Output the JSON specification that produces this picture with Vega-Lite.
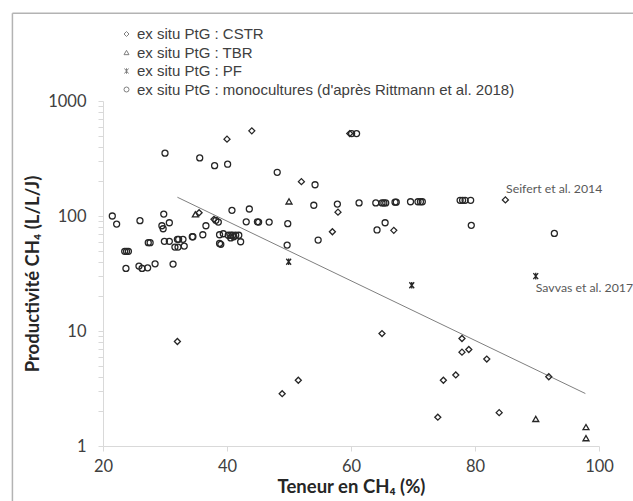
{
  "$schema": "https://vega.github.io/schema/vega-lite/v6.json",
  "width": 496,
  "height": 345,
  "autosize": "none",
  "padding": {"left": 103, "top": 101, "right": 34, "bottom": 55},
  "background": "white",
  "config": {"font": "Lato", "view": {"stroke": null}},
  "datasets": {
    "points": [
      {"serie": "ex situ PtG : CSTR", "ch4": 32.0, "prod": 8.1},
      {"serie": "ex situ PtG : CSTR", "ch4": 35.5, "prod": 106.8},
      {"serie": "ex situ PtG : CSTR", "ch4": 37.9, "prod": 93.6},
      {"serie": "ex situ PtG : CSTR", "ch4": 40.0, "prod": 466},
      {"serie": "ex situ PtG : CSTR", "ch4": 44.0, "prod": 550},
      {"serie": "ex situ PtG : CSTR", "ch4": 48.9, "prod": 2.85},
      {"serie": "ex situ PtG : CSTR", "ch4": 51.5, "prod": 3.73},
      {"serie": "ex situ PtG : CSTR", "ch4": 52.0, "prod": 199},
      {"serie": "ex situ PtG : CSTR", "ch4": 57.0, "prod": 73},
      {"serie": "ex situ PtG : CSTR", "ch4": 57.9, "prod": 108},
      {"serie": "ex situ PtG : CSTR", "ch4": 59.8, "prod": 521},
      {"serie": "ex situ PtG : CSTR", "ch4": 65.0, "prod": 9.5},
      {"serie": "ex situ PtG : CSTR", "ch4": 66.9, "prod": 75},
      {"serie": "ex situ PtG : CSTR", "ch4": 74.0, "prod": 1.78},
      {"serie": "ex situ PtG : CSTR", "ch4": 74.9, "prod": 3.73},
      {"serie": "ex situ PtG : CSTR", "ch4": 76.9, "prod": 4.15},
      {"serie": "ex situ PtG : CSTR", "ch4": 77.9, "prod": 8.6},
      {"serie": "ex situ PtG : CSTR", "ch4": 77.9, "prod": 6.55},
      {"serie": "ex situ PtG : CSTR", "ch4": 79.0, "prod": 6.9},
      {"serie": "ex situ PtG : CSTR", "ch4": 81.9, "prod": 5.7},
      {"serie": "ex situ PtG : CSTR", "ch4": 83.9, "prod": 1.95},
      {"serie": "ex situ PtG : CSTR", "ch4": 84.9, "prod": 138},
      {"serie": "ex situ PtG : CSTR", "ch4": 91.9, "prod": 4.0},
      {"serie": "ex situ PtG : TBR", "ch4": 34.9, "prod": 103.5},
      {"serie": "ex situ PtG : TBR", "ch4": 50.0, "prod": 134},
      {"serie": "ex situ PtG : TBR", "ch4": 89.8, "prod": 1.72},
      {"serie": "ex situ PtG : TBR", "ch4": 97.9, "prod": 1.46},
      {"serie": "ex situ PtG : TBR", "ch4": 97.9, "prod": 1.17},
      {"serie": "ex situ PtG : PF", "ch4": 49.95, "prod": 40},
      {"serie": "ex situ PtG : PF", "ch4": 69.8, "prod": 25},
      {"serie": "ex situ PtG : PF", "ch4": 89.8, "prod": 30},
      {"serie": "mono", "ch4": 21.5, "prod": 100},
      {"serie": "mono", "ch4": 22.2, "prod": 85},
      {"serie": "mono", "ch4": 25.96, "prod": 91},
      {"serie": "mono", "ch4": 23.5, "prod": 49.3},
      {"serie": "mono", "ch4": 23.8, "prod": 49.3},
      {"serie": "mono", "ch4": 24.1, "prod": 49.3},
      {"serie": "mono", "ch4": 23.7, "prod": 35},
      {"serie": "mono", "ch4": 25.8, "prod": 36.7},
      {"serie": "mono", "ch4": 26.3, "prod": 35},
      {"serie": "mono", "ch4": 27.2, "prod": 35.4},
      {"serie": "mono", "ch4": 28.4, "prod": 38.4},
      {"serie": "mono", "ch4": 27.3, "prod": 58.6},
      {"serie": "mono", "ch4": 27.6, "prod": 58.6},
      {"serie": "mono", "ch4": 30.0, "prod": 352},
      {"serie": "mono", "ch4": 29.8, "prod": 104},
      {"serie": "mono", "ch4": 29.5, "prod": 82.3},
      {"serie": "mono", "ch4": 29.7, "prod": 77.5},
      {"serie": "mono", "ch4": 30.7, "prod": 87.4},
      {"serie": "mono", "ch4": 29.9, "prod": 60.2},
      {"serie": "mono", "ch4": 30.7, "prod": 60.2},
      {"serie": "mono", "ch4": 31.3, "prod": 38.2},
      {"serie": "mono", "ch4": 31.6, "prod": 53.7},
      {"serie": "mono", "ch4": 32.1, "prod": 53.7},
      {"serie": "mono", "ch4": 32.0, "prod": 62.7},
      {"serie": "mono", "ch4": 32.2, "prod": 62.7},
      {"serie": "mono", "ch4": 32.9, "prod": 62.7},
      {"serie": "mono", "ch4": 33.1, "prod": 54.8},
      {"serie": "mono", "ch4": 34.4, "prod": 66},
      {"serie": "mono", "ch4": 34.5, "prod": 66},
      {"serie": "mono", "ch4": 35.6, "prod": 320},
      {"serie": "mono", "ch4": 36.1, "prod": 68.7},
      {"serie": "mono", "ch4": 36.6, "prod": 82.3},
      {"serie": "mono", "ch4": 38.0, "prod": 274},
      {"serie": "mono", "ch4": 40.1, "prod": 282},
      {"serie": "mono", "ch4": 38.2, "prod": 91.7},
      {"serie": "mono", "ch4": 38.6, "prod": 88.6},
      {"serie": "mono", "ch4": 38.8, "prod": 57.8},
      {"serie": "mono", "ch4": 39.0, "prod": 56.7},
      {"serie": "mono", "ch4": 38.8, "prod": 68.7},
      {"serie": "mono", "ch4": 39.4, "prod": 70.1},
      {"serie": "mono", "ch4": 40.2, "prod": 68},
      {"serie": "mono", "ch4": 40.6, "prod": 68},
      {"serie": "mono", "ch4": 40.9, "prod": 68},
      {"serie": "mono", "ch4": 41.4, "prod": 68},
      {"serie": "mono", "ch4": 41.9, "prod": 68},
      {"serie": "mono", "ch4": 40.6, "prod": 64.5},
      {"serie": "mono", "ch4": 41.1, "prod": 66},
      {"serie": "mono", "ch4": 42.2, "prod": 59.7},
      {"serie": "mono", "ch4": 40.8, "prod": 112},
      {"serie": "mono", "ch4": 43.1, "prod": 89},
      {"serie": "mono", "ch4": 43.6, "prod": 115},
      {"serie": "mono", "ch4": 44.9, "prod": 89},
      {"serie": "mono", "ch4": 45.1, "prod": 88.6},
      {"serie": "mono", "ch4": 46.8, "prod": 88.6},
      {"serie": "mono", "ch4": 48.1, "prod": 240},
      {"serie": "mono", "ch4": 49.8, "prod": 85.7},
      {"serie": "mono", "ch4": 49.7, "prod": 55.9},
      {"serie": "mono", "ch4": 54.2, "prod": 187},
      {"serie": "mono", "ch4": 54.0, "prod": 124},
      {"serie": "mono", "ch4": 54.7, "prod": 61.8},
      {"serie": "mono", "ch4": 57.8, "prod": 127},
      {"serie": "mono", "ch4": 60.1, "prod": 521},
      {"serie": "mono", "ch4": 60.9, "prod": 521},
      {"serie": "mono", "ch4": 61.3, "prod": 130},
      {"serie": "mono", "ch4": 64.0, "prod": 130},
      {"serie": "mono", "ch4": 65.0, "prod": 130},
      {"serie": "mono", "ch4": 65.3, "prod": 130},
      {"serie": "mono", "ch4": 65.6, "prod": 130},
      {"serie": "mono", "ch4": 64.2, "prod": 75.6},
      {"serie": "mono", "ch4": 65.5, "prod": 87.4},
      {"serie": "mono", "ch4": 67.1, "prod": 132},
      {"serie": "mono", "ch4": 67.3, "prod": 132},
      {"serie": "mono", "ch4": 69.6, "prod": 133},
      {"serie": "mono", "ch4": 70.8, "prod": 133},
      {"serie": "mono", "ch4": 71.2, "prod": 133},
      {"serie": "mono", "ch4": 71.5, "prod": 133},
      {"serie": "mono", "ch4": 77.6, "prod": 137},
      {"serie": "mono", "ch4": 78.0, "prod": 137},
      {"serie": "mono", "ch4": 78.4, "prod": 137},
      {"serie": "mono", "ch4": 79.3, "prod": 137},
      {"serie": "mono", "ch4": 79.4, "prod": 83},
      {"serie": "mono", "ch4": 92.8, "prod": 70.6}
    ],
    "trend": [
      {"ch4": 32.0, "prod": 145.6},
      {"ch4": 97.8, "prod": 2.86}
    ],
    "notes": [
      {"ch4": 85.0, "prod": 171, "txt": "Seifert et al. 2014"},
      {"ch4": 89.8, "prod": 23.6, "txt": "Savvas et al. 2017"}
    ]
  },
  "layer": [
    {
      "data": {"values": [{}]},
      "mark": {"type": "rule", "stroke": "#b3b3b3", "strokeWidth": 1.5, "clip": false},
      "encoding": {
        "x": {"datum": 5.39, "type": "quantitative"},
        "x2": {"datum": 300},
        "y": {"datum": 5781, "type": "quantitative"}
      }
    },
    {
      "data": {"values": [{}]},
      "mark": {"type": "rule", "stroke": "#b3b3b3", "strokeWidth": 1.5, "clip": false},
      "encoding": {
        "x": {"datum": 5.39, "type": "quantitative"},
        "y": {"datum": 5781, "type": "quantitative"},
        "y2": {"datum": 0.001}
      }
    },
    {
      "data": {"name": "trend"},
      "mark": {"type": "line", "stroke": "#7f7f7f", "strokeWidth": 1},
      "encoding": {
        "x": {"field": "ch4", "type": "quantitative"},
        "y": {"field": "prod", "type": "quantitative"}
      }
    },
    {
      "data": {"name": "points"},
      "mark": {"type": "point", "filled": false, "stroke": "#262626", "strokeWidth": 1.3, "size": 36, "opacity": 1},
      "encoding": {
        "x": {
          "field": "ch4", "type": "quantitative",
          "scale": {"domain": [20, 100], "nice": false, "zero": false},
          "axis": {
            "values": [20, 40, 60, 80, 100],
            "title": "Teneur en CH₄ (%)",
            "titleFontSize": 18.5, "titleFontWeight": "bold", "titleColor": "#262626", "titlePadding": 3,
            "labelFontSize": 16.5, "labelColor": "#404040", "labelPadding": 7,
            "domainColor": "#d9d9d9", "tickColor": "#d9d9d9", "tickSize": 5, "grid": false, "labelFlush": false
          }
        },
        "y": {
          "field": "prod", "type": "quantitative",
          "scale": {"type": "log", "domain": [1, 1000], "nice": false},
          "axis": {
            "values": [1,2,3,4,5,6,7,8,9,10,20,30,40,50,60,70,80,90,100,200,300,400,500,600,700,800,900,1000],
            "format": "d",
            "labelExpr": "indexof(['1','10','100','1000'], datum.label) >= 0 ? datum.label : ''",
            "title": "Productivité CH₄ (L/L/J)",
            "titleFontSize": 18.5, "titleFontWeight": "bold", "titleColor": "#262626", "titlePadding": 5,
            "labelFontSize": 16.5, "labelColor": "#404040", "labelPadding": 12,
            "domainColor": "#d9d9d9", "tickColor": "#d9d9d9", "tickSize": 5, "grid": false, "labelFlush": false
          }
        },
        "shape": {
          "field": "serie", "type": "nominal",
          "scale": {
            "domain": ["ex situ PtG : CSTR", "ex situ PtG : TBR", "ex situ PtG : PF", "mono"],
            "range": ["diamond", "triangle-up", "M-0.8,-1L0.8,1M-0.8,1L0.8,-1M0,-1.1L0,1.1", "circle"]
          },
          "legend": {
            "title": null,
            "orient": "none",
            "legendX": 16,
            "legendY": -74.5,
            "labelExpr": "datum.label == 'mono' ? \"ex situ PtG : monocultures (d'après Rittmann et al. 2018)\" : datum.label",
            "labelFont": "Liberation Sans",
            "labelFontSize": 15,
            "labelLimit": 600,
            "labelColor": "#404040",
            "symbolSize": 25,
            "symbolStrokeWidth": 1,
            "symbolStrokeColor": "#7f7f7f",
            "symbolFillColor": "transparent",
            "rowPadding": 2.5,
            "labelOffset": 3
          }
        }
      }
    },
    {
      "data": {"name": "notes"},
      "mark": {"type": "text", "align": "left", "baseline": "middle", "fontSize": 12.3, "color": "#595959"},
      "encoding": {
        "x": {"field": "ch4", "type": "quantitative"},
        "y": {"field": "prod", "type": "quantitative"},
        "text": {"field": "txt"}
      }
    }
  ]
}
